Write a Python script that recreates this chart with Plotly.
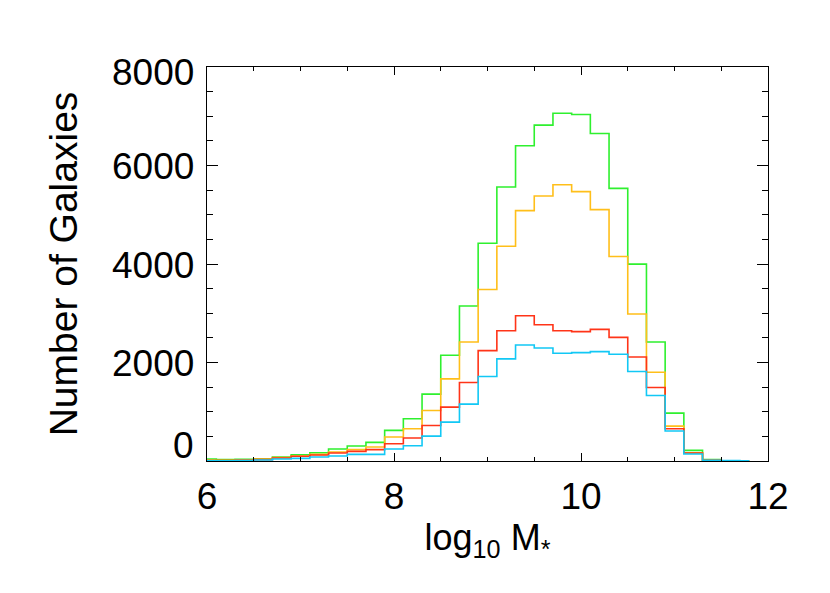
import plotly.graph_objects as go

# bin centres (log10 stellar mass), bin width 0.2
mass_bins = [6.0, 6.2, 6.4, 6.6, 6.8, 7.0, 7.2, 7.4, 7.6, 7.8,
             8.0, 8.2, 8.4, 8.6, 8.8, 9.0, 9.2, 9.4, 9.6, 9.8,
             10.0, 10.2, 10.4, 10.6, 10.8, 11.0, 11.2, 11.4, 11.6, 11.8]

n_green = [40, 27, 34, 47, 81, 128, 169, 243, 304, 378,
           621, 857, 1357, 2147, 3146, 4422, 5563, 6400, 6819, 7062,
           7035, 6650, 5536, 3997, 2417, 972, 216, 27, 5, 0]
n_orange = [15, 15, 20, 40, 68, 101, 135, 182, 230, 284,
            486, 655, 1026, 1667, 2417, 3483, 4361, 5084, 5381, 5610,
            5469, 5104, 4152, 2984, 1803, 709, 169, 14, 0, 0]
n_red = [10, 10, 15, 27, 61, 95, 122, 162, 196, 230,
         351, 466, 722, 1094, 1593, 2241, 2646, 2950, 2768, 2646,
         2626, 2673, 2511, 2113, 1492, 655, 162, 14, 0, 0]
n_cyan = [5, 5, 7, 20, 40, 54, 81, 101, 135, 135,
          243, 311, 506, 790, 1154, 1715, 2073, 2356, 2295, 2187,
          2201, 2221, 2167, 1816, 1330, 608, 142, 14, 7, 5]

x_ticks = [6, 8, 10, 12]
y_ticks = [0, 2000, 4000, 6000, 8000]
y_tick_text = ["0", "2000", "4000", "6000", "8000"]

FONT = "Liberation Sans, Arial, Helvetica, sans-serif"

fig = go.Figure()
for ys, col in [(n_green, "#2ef02e"), (n_orange, "#ffbf1a"),
                (n_red, "#ff3418"), (n_cyan, "#12c8f5")]:
    fig.add_trace(go.Scatter(x=mass_bins, y=ys, mode="lines",
                             line=dict(color=col, width=1.6, shape="hvh"),
                             showlegend=False))

axis_common = dict(showline=True, linecolor="black", linewidth=1, mirror="allticks",
                   ticks="inside", tickcolor="black", tickwidth=1,
                   showgrid=False, zeroline=False, automargin=False)

fig.update_xaxes(range=[6, 12], tickvals=x_ticks, ticklen=8, ticklabelstandoff=3,
                 minor=dict(dtick=0.5, ticklen=4, ticks="inside", tickcolor="black"),
                 tickfont=dict(size=37, color="black", family=FONT),
                 title=dict(text="log<sub>10</sub> M<sub>*</sub>",
                            font=dict(size=36, color="black", family=FONT), standoff=8),
                 **axis_common)
fig.update_yaxes(range=[0, 8000], tickvals=y_ticks, ticklen=11, showticklabels=False,
                 minor=dict(dtick=500, ticklen=6, ticks="inside", tickcolor="black"),
                 title=dict(text="Number of Galaxies",
                            font=dict(size=39, color="black", family=FONT), standoff=116),
                 **axis_common)

# y tick labels, IDL style (end labels pulled inside the axis range)
shifts = {0: 16, 8000: -5}
for v, t in zip(y_ticks, y_tick_text):
    fig.add_annotation(x=0, xref="paper", y=v, yref="y", text=t, showarrow=False,
                       xanchor="right", yanchor="middle", xshift=-11,
                       yshift=shifts.get(v, -1),
                       font=dict(size=37, color="black", family=FONT))

# the page body adds an 8px offset, so margins are trimmed by 8 on the left/top
fig.update_layout(width=830, height=593, plot_bgcolor="white", paper_bgcolor="white",
                  margin=dict(l=199, r=70, t=59, b=140))

fig.write_html("out.html")
